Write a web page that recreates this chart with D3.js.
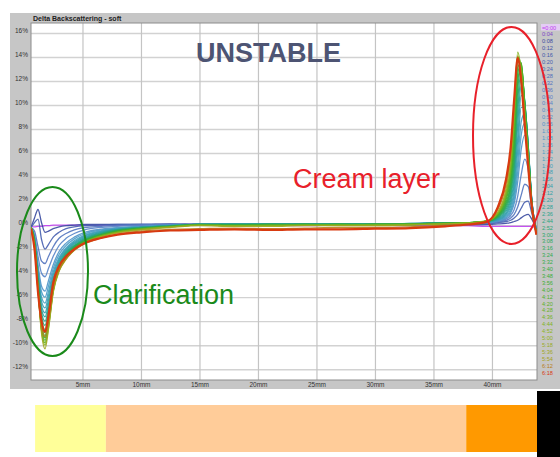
<!DOCTYPE html>
<html><head><meta charset="utf-8">
<script src="https://cdn.jsdelivr.net/npm/d3@7"></script>
<style>html,body{margin:0;padding:0;background:#fff;}svg{display:block;}</style>
</head><body><svg id="c" width="560" height="457"></svg>
<script>
// ---------- data ----------
const positionsMm = [0.6,0.9,1.2,1.5,1.8,2.1,2.5,3.0,3.6,4.3,5.2,6.5,8,10,12.5,15,18,21,24,27,30,33,36,38,39.5,40.5,41.2,41.6,41.9,42.2,42.5,42.8,43.1,43.4,43.8];

const bs_0_00 = [-0.1,-0.15,-0.1,-0.1,-0.05,-0.05,0,0,0,0,0,0,0,0,0,0, 0,0,-0.05,0,0,-0.05,-0.05, -0.05,-0.1,-0.1,-0.1,-0.1,-0.1,-0.1,-0.1,-0.1,-0.1,-0.1,-0.3];
const bs_0_08 = [-0.2,0.6,1.3,0.2,-0.6,-0.5,-0.3,-0.15,-0.05,0,0.05,0.05,0.05,0.05,0.1,0.05, 0.05,0.1,0.05,0.05,0.1,0.05,0.05, 0.05,0.05,0.1,0.15,0.2,0.3,0.4,0.6,0.8,0.9,0.5,-0.3];
const bs_0_20 = [-0.2,0.2,0.5,-1.2,-2.0,-1.6,-1.0,-0.6,-0.3,-0.15,-0.05,0,0.05,0.05,0.05,0.1, 0.1,0.05,0.1,0.05,0.1,0.1,0.1, 0.1,0.1,0.2,0.3,0.4,0.6,0.9,1.4,1.9,2.0,1.0,-0.3];
const bs_0_32 = [-0.2,-0.5,-1.8,-3.0,-3.2,-2.6,-1.8,-1.1,-0.7,-0.4,-0.2,-0.1,0,0.05,0.05,0.05, 0.05,0.1,0.05,0.1,0.05,0.1,0.15, 0.1,0.15,0.25,0.4,0.6,0.9,1.5,2.5,3.4,3.2,1.4,-0.4];
const bs_0_44 = [-0.2,-0.8,-2.6,-4.0,-4.3,-3.6,-2.6,-1.7,-1.1,-0.7,-0.4,-0.2,-0.1,0,0.05,0.05, 0.1,0.05,0.1,0.1,0.05,0.1,0.15, 0.15,0.2,0.3,0.5,0.8,1.3,2.4,4.2,5.5,4.6,1.8,-0.4];
const bs_1_00 = [-0.2,-1.0,-3.3,-5.1,-5.5,-4.6,-3.3,-2.2,-1.5,-1.0,-0.6,-0.35,-0.2,-0.1,0,0.05, 0.05,0.1,0.1,0.05,0.1,0.1,0.15, 0.15,0.2,0.35,0.6,1.0,1.8,3.6,6.3,7.5,5.6,2.0,-0.5];
const bs_1_16 = [-0.2,-1.05,-3.55,-5.55,-6.0,-5.05,-3.6,-2.45,-1.7,-1.15,-0.72,-0.42,-0.25,-0.12,-0.02,0.05, 0.1,0.1,0.05,0.1,0.05,0.1,0.15, 0.2,0.2,0.4,0.7,1.15,2.1,4.4,7.5,8.5,6.0,2.0,-0.5];
const bs_1_32 = [-0.2,-1.1,-3.8,-6.0,-6.5,-5.5,-3.9,-2.7,-1.9,-1.3,-0.85,-0.5,-0.3,-0.15,-0.05,0.05, 0.1,0.05,0.05,0.1,0.1,0.1,0.2, 0.2,0.25,0.4,0.8,1.3,2.5,5.2,8.6,9.3,6.3,2.1,-0.5];
const bs_1_48 = [-0.2,-1.15,-4.0,-6.35,-6.9,-5.85,-4.15,-2.85,-2.0,-1.4,-0.92,-0.55,-0.32,-0.17,-0.05,0.05, 0.05,0.1,0.05,0.1,0.1,0.15,0.2, 0.2,0.25,0.45,0.9,1.55,2.9,6.2,9.8,9.8,6.5,2.1,-0.5];
const bs_2_04 = [-0.2,-1.2,-4.2,-6.7,-7.3,-6.2,-4.4,-3.0,-2.1,-1.5,-1.0,-0.6,-0.35,-0.2,-0.05,0.05, 0.05,0.1,0.1,0.1,0.05,0.15,0.2, 0.2,0.25,0.5,1.0,1.8,3.4,7.2,10.8,10.0,6.6,2.2,-0.5];
const bs_2_20 = [-0.2,-1.25,-4.35,-7.0,-7.65,-6.55,-4.6,-3.15,-2.2,-1.6,-1.08,-0.65,-0.38,-0.2,-0.05,0.05, 0.1,0.05,0.1,0.1,0.05,0.1,0.2, 0.2,0.3,0.55,1.15,2.05,3.9,8.4,11.6,10.2,6.6,2.1,-0.5];
const bs_2_36 = [-0.2,-1.3,-4.5,-7.3,-8.0,-6.9,-4.8,-3.3,-2.3,-1.7,-1.15,-0.7,-0.4,-0.2,-0.05,0.05, 0.05,0.05,0.1,0.05,0.1,0.1,0.2, 0.2,0.3,0.6,1.3,2.3,4.5,9.5,12.2,10.3,6.5,2.0,-0.5];
const bs_2_52 = [-0.2,-1.35,-4.65,-7.6,-8.35,-7.15,-4.95,-3.4,-2.4,-1.75,-1.2,-0.75,-0.42,-0.22,-0.08,0.05, 0.05,0.1,0.05,0.05,0.1,0.1,0.2, 0.2,0.3,0.65,1.45,2.6,5.0,10.4,12.6,10.3,6.4,2.0,-0.55];
const bs_3_08 = [-0.2,-1.4,-4.8,-7.9,-8.7,-7.4,-5.1,-3.5,-2.5,-1.8,-1.25,-0.8,-0.45,-0.25,-0.1,0.05, 0,0.05,0.05,0.1,0.05,0.1,0.2, 0.2,0.3,0.7,1.6,2.9,5.6,11.3,13.0,10.2,6.3,1.9,-0.6];
const bs_3_24 = [-0.2,-1.45,-4.9,-8.1,-8.95,-7.65,-5.2,-3.55,-2.55,-1.85,-1.28,-0.82,-0.48,-0.28,-0.1,0.02, 0,0.05,0,0.05,0.05,0.1,0.15, 0.2,0.3,0.75,1.75,3.2,6.2,12.0,13.2,10.1,6.2,1.85,-0.6];
const bs_3_40 = [-0.2,-1.5,-5.0,-8.3,-9.2,-7.9,-5.3,-3.6,-2.6,-1.9,-1.3,-0.85,-0.5,-0.3,-0.1,0, 0,0,0.05,0,0.05,0.1,0.15, 0.2,0.3,0.8,1.9,3.5,6.8,12.6,13.4,10.0,6.1,1.8,-0.6];
const bs_3_56 = [-0.2,-1.55,-5.1,-8.45,-9.4,-8.05,-5.35,-3.65,-2.65,-1.95,-1.35,-0.88,-0.52,-0.3,-0.12,0, 0,0,0.05,0,0.05,0.05,0.15, 0.2,0.3,0.85,2.1,3.9,7.4,13.1,13.5,9.9,6.0,1.75,-0.6];
const bs_4_12 = [-0.2,-1.6,-5.2,-8.6,-9.6,-8.2,-5.4,-3.7,-2.7,-2.0,-1.4,-0.9,-0.55,-0.3,-0.15,0, -0.05,0,0,0.05,0,0.05,0.15, 0.2,0.3,0.9,2.3,4.3,8.0,13.6,13.5,9.8,5.9,1.7,-0.6];
const bs_4_28 = [-0.2,-1.65,-5.25,-8.7,-9.8,-8.35,-5.45,-3.75,-2.75,-2.02,-1.42,-0.92,-0.58,-0.32,-0.15,0, -0.05,0,0,0,0.05,0.05,0.1, 0.2,0.32,0.95,2.5,4.65,8.6,14.0,13.2,9.5,5.75,1.65,-0.65];
const bs_4_44 = [-0.2,-1.7,-5.3,-8.8,-10.0,-8.5,-5.5,-3.8,-2.8,-2.05,-1.45,-0.95,-0.6,-0.35,-0.15,0, -0.05,-0.05,0,0,0,0.05,0.1, 0.2,0.35,1.0,2.7,5.0,9.2,14.4,12.8,9.3,5.6,1.6,-0.7];
const bs_5_36 = [-0.25,-1.8,-5.4,-9.0,-10.3,-8.6,-5.6,-3.85,-2.85,-2.1,-1.5,-1.0,-0.65,-0.4,-0.2,-0.05, -0.1,-0.1,-0.05,-0.05,-0.05,0,0.1, 0.15,0.3,1.1,3.0,5.6,9.8,14.1,12.4,8.9,5.4,1.6,-0.7];
const bs_6_12 = [-0.3,-1.9,-5.5,-8.4,-9.3,-7.9,-5.2,-3.7,-2.8,-2.1,-1.55,-1.1,-0.75,-0.5,-0.35,-0.3, -0.25,-0.3,-0.25,-0.2,-0.2,-0.15,0, 0.1,0.3,1.3,3.4,6.0,10.1,14.0,12.2,8.6,5.2,1.6,-0.8];
const bs_6_18 = [-0.3,-2.0,-5.6,-8.0,-8.9,-7.5,-4.8,-3.4,-2.6,-2.0,-1.5,-1.1,-0.8,-0.6,-0.45,-0.4, -0.35,-0.4,-0.35,-0.35,-0.3,-0.25,-0.1, 0.05,0.25,1.5,3.8,6.5,10.5,13.9,12.0,8.3,4.8,1.6,-0.8];

const timeLabels = ["=0:00","0:04","0:08","0:12","0:16","0:20","0:24","0:28","0:32","0:36","0:40","0:44","0:48","0:52","0:56","1:00","1:08","1:16","1:24","1:32","1:40","1:48","1:56","2:04","2:12","2:20","2:28","2:36","2:44","2:52","3:00","3:08","3:16","3:24","3:32","3:40","3:48","3:56","4:04","4:12","4:20","4:28","4:36","4:44","4:52","5:00","5:18","5:36","5:54","6:12","6:18"];
const curveSeries = [bs_0_00,bs_0_08,bs_0_20,bs_0_32,bs_0_44,bs_1_00,bs_1_16,bs_1_32,bs_1_48,bs_2_04,bs_2_20,bs_2_36,bs_2_52,bs_3_08,bs_3_24,bs_3_40,bs_3_56,bs_4_12,bs_4_28,bs_4_44,bs_5_36,bs_6_12,bs_6_18];
const curveTimeIndex = [0,2,5,8,11,15,17,19,21,23,25,27,29,31,33,35,37,39,41,43,47,49,50];

const yTicks = [16,14,12,10,8,6,4,2,0,-2,-4,-6,-8,-10,-12];
const xTicks = [5,10,15,20,25,30,35,40];

const zoneStartMm = [0.95, 7.0, 37.8];
const zoneEndMm = [7.0, 37.8, 43.85];
const zoneColors = ["#ffff99","#ffcc99","#ff9900"];

// ---------- drawing ----------
const svg = d3.select("#c");
const L = 31, R = 537, T = 23, B = 380;
const FONT = "Liberation Sans, Arial, sans-serif";
const x = d3.scaleLinear().domain([0.6, 43.85]).range([L, R]);
const y = d3.scaleLinear().domain([-12.9, 16.83]).range([B, T]);

const rampPos = [0, 0.04, 0.2, 0.35, 0.5, 0.62, 0.75, 0.88, 0.97, 1];
const rampCol = ["#c040f0","#3a4aa0","#5a80c8","#4a9ec8","#2aa0a0","#2aa860","#3cae2c","#8cb41c","#a8a020","#d83a10"];
const color = d3.scaleLinear().domain(rampPos).range(rampCol);

// gray frame
svg.append("rect").attr("x",10).attr("y",13).attr("width",550).attr("height",376).attr("fill","#c6c6c6");
svg.append("rect").attr("x",L).attr("y",T).attr("width",R-L).attr("height",B-T).attr("fill","#ffffff");

// grid
svg.append("g").attr("transform",`translate(${L},0)`)
  .call(d3.axisLeft(y).tickValues(yTicks).tickSize(-(R-L)).tickFormat(""))
  .call(g=>g.select(".domain").remove())
  .call(g=>g.selectAll("line").attr("stroke","#d2d2d2").attr("stroke-width",1.4));
svg.append("g").attr("transform",`translate(0,${B})`)
  .call(d3.axisBottom(x).tickValues(xTicks).tickSize(-(B-T)).tickFormat(""))
  .call(g=>g.select(".domain").remove())
  .call(g=>g.selectAll("line").attr("stroke","#c4c4c4").attr("stroke-width",1.2));

svg.append("rect").attr("x",L).attr("y",T).attr("width",R-L).attr("height",B-T)
  .attr("fill","none").attr("stroke","#8c8c8c").attr("stroke-width",1);

// axis labels
svg.append("g").attr("transform",`translate(${L},0)`)
  .call(d3.axisLeft(y).tickValues(yTicks).tickSize(0).tickPadding(3).tickFormat(d=>d+"%"))
  .call(g=>g.select(".domain").remove())
  .call(g=>g.selectAll("text").attr("font-family",FONT).attr("font-size",6.5).attr("fill","#333").attr("dy","-0.1em"));
svg.append("g").attr("transform",`translate(0,${B})`)
  .call(d3.axisBottom(x).tickValues(xTicks).tickSize(0).tickPadding(2).tickFormat(d=>d+"mm"))
  .call(g=>g.select(".domain").remove())
  .call(g=>g.selectAll("text").attr("font-family",FONT).attr("font-size",6.5).attr("fill","#333"));

svg.append("text").attr("x",33).attr("y",21).text("Delta Backscattering - soft")
  .attr("font-family",FONT).attr("font-size",7).attr("font-weight","bold").attr("fill","#222");

// curves
const line = d3.line().x((d,i)=>x(positionsMm[i])).y(d=>y(d)).curve(d3.curveMonotoneX);
svg.append("clipPath").attr("id","pc").append("rect").attr("x",L).attr("y",T).attr("width",R-L).attr("height",B-T);
const cg = svg.append("g").attr("clip-path","url(#pc)");
curveSeries.forEach((s,k)=>{
  const last = k === curveSeries.length-1;
  cg.append("path").attr("d",line(s)).attr("fill","none")
    .attr("stroke",color(curveTimeIndex[k]/(timeLabels.length-1)))
    .attr("stroke-width", last ? 2.2 : 1.3)
    .attr("stroke-opacity", last ? 1 : 0.9)
    .attr("stroke-linejoin","round");
});

// legend of times
svg.append("rect").attr("x",541).attr("y",24).attr("width",19).attr("height",6.5).attr("fill","#e4ccf4");
const lg = svg.append("g");
timeLabels.forEach((t,i)=>{
  lg.append("text").attr("x",542).attr("y",29.5 + i*6.9).text(t)
    .attr("font-family",FONT).attr("font-size",5.6)
    .attr("fill",color(i/(timeLabels.length-1)));
});

// annotations
svg.append("text").attr("x",196).attr("y",62).text("UNSTABLE")
  .attr("font-family",FONT).attr("font-size",27).attr("font-weight","bold").attr("fill","#4d5473");
svg.append("text").attr("x",293).attr("y",188).text("Cream layer")
  .attr("font-family",FONT).attr("font-size",27).attr("fill","#e8202a");
svg.append("text").attr("x",93).attr("y",304).text("Clarification")
  .attr("font-family",FONT).attr("font-size",27).attr("fill","#1a8a1a");

svg.append("ellipse").attr("cx",52.5).attr("cy",271.5).attr("rx",35.5).attr("ry",84.5)
  .attr("fill","none").attr("stroke","#1a8a1a").attr("stroke-width",2);
svg.append("ellipse").attr("cx",511.5).attr("cy",135.5).attr("rx",38.5).attr("ry",108.5)
  .attr("fill","none").attr("stroke","#e8202a").attr("stroke-width",2);

// zone bar
zoneStartMm.forEach((s,i)=>{
  svg.append("rect").attr("x",x(s)).attr("y",405).attr("width",x(zoneEndMm[i])-x(s)).attr("height",47).attr("fill",zoneColors[i]);
});
svg.append("rect").attr("x",x(43.85)).attr("y",391).attr("width",560-x(43.85)).attr("height",66).attr("fill","#000");
</script></body></html>
